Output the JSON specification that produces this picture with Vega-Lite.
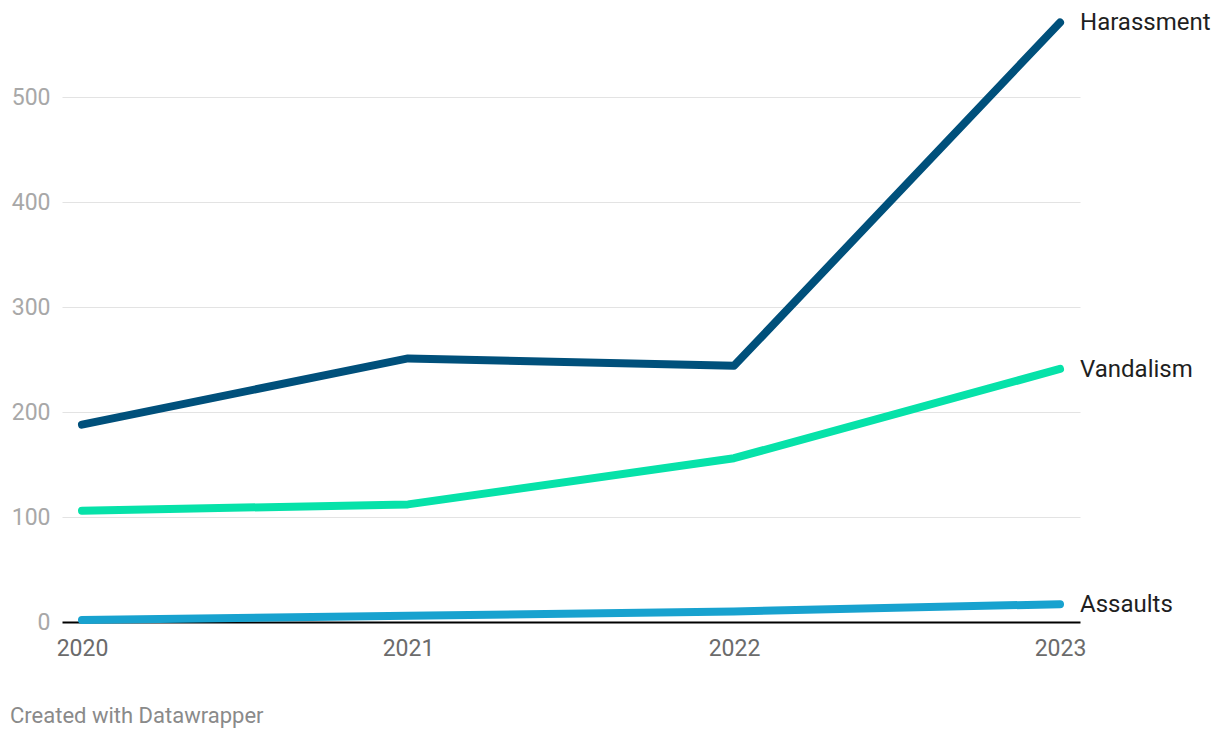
{
  "$schema": "https://vega.github.io/schema/vega-lite/v6.json",
  "width": 1018,
  "height": 600,
  "autosize": {"type": "none"},
  "padding": {"left": 62, "top": 22, "right": 140, "bottom": 116},
  "background": "#ffffff",
  "config": {
    "font": "Roboto",
    "view": {"stroke": null}
  },
  "title": {
    "text": "Created with Datawrapper",
    "orient": "bottom",
    "anchor": "start",
    "frame": "group",
    "dx": -52,
    "offset": 46,
    "fontSize": 22,
    "fontWeight": "normal",
    "color": "#8a8a8a",
    "font": "Roboto"
  },
  "data": {
    "values": [
      {"year": "2020", "type": "Harassment", "count": 188},
      {"year": "2021", "type": "Harassment", "count": 251},
      {"year": "2022", "type": "Harassment", "count": 244},
      {"year": "2023", "type": "Harassment", "count": 571},
      {"year": "2020", "type": "Vandalism", "count": 106},
      {"year": "2021", "type": "Vandalism", "count": 112},
      {"year": "2022", "type": "Vandalism", "count": 156},
      {"year": "2023", "type": "Vandalism", "count": 241},
      {"year": "2020", "type": "Assaults", "count": 2},
      {"year": "2021", "type": "Assaults", "count": 6},
      {"year": "2022", "type": "Assaults", "count": 10},
      {"year": "2023", "type": "Assaults", "count": 17}
    ]
  },
  "encoding": {
    "x": {
      "field": "year",
      "type": "ordinal",
      "scale": {"type": "point", "padding": 0.0613},
      "axis": {
        "title": null,
        "labelAngle": 0,
        "labelFontSize": 23,
        "labelColor": "#6b6b6b",
        "labelPadding": 15,
        "ticks": false,
        "domain": false,
        "grid": false
      }
    },
    "y": {
      "field": "count",
      "type": "quantitative",
      "scale": {"domain": [0, 571.43], "nice": false, "zero": true},
      "axis": {
        "title": null,
        "values": [0, 100, 200, 300, 400, 500],
        "labelFontSize": 23,
        "labelColor": "#a8a8a8",
        "labelPadding": 12,
        "ticks": false,
        "domain": false,
        "gridColor": {"condition": {"test": "datum.value === 0", "value": "#000000"}, "value": "#e3e3e3"},
        "gridWidth": {"condition": {"test": "datum.value === 0", "value": 2}, "value": 1}
      }
    },
    "color": {
      "field": "type",
      "type": "nominal",
      "scale": {
        "domain": ["Harassment", "Vandalism", "Assaults"],
        "range": ["#00507b", "#06e2a9", "#18a2cf"]
      },
      "legend": null
    }
  },
  "layer": [
    {
      "mark": {"type": "line", "strokeWidth": 8, "strokeCap": "round", "strokeJoin": "round"}
    },
    {
      "transform": [{"filter": "datum.year === '2023'"}],
      "mark": {"type": "text", "align": "left", "baseline": "middle", "dx": 20, "dy": 1, "fontSize": 24, "color": "#1f1f1f"},
      "encoding": {
        "text": {"field": "type"},
        "color": {"value": "#1f1f1f"}
      }
    }
  ]
}
